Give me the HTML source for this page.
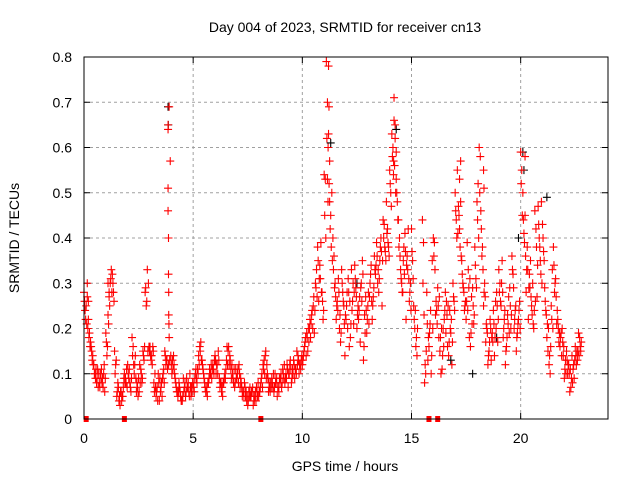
<!DOCTYPE html>
<html><head><meta charset="utf-8"><style>
body{margin:0;background:#fff;}
svg{display:block;font-family:"Liberation Sans",sans-serif;}
</style></head><body>
<svg id="chart" width="640" height="480" viewBox="0 0 640 480">
<rect width="640" height="480" fill="#fff"/>
<text x="345" y="32" font-size="14" text-anchor="middle">Day 004 of 2023, SRMTID for receiver cn13</text>
<text transform="translate(19,238) rotate(-90)" font-size="14" text-anchor="middle">SRMTID / TECUs</text>
<text x="345" y="471" font-size="14" text-anchor="middle">GPS time / hours</text>
<g id="grid"></g><g id="axes"></g><g id="marks"></g>
<rect x="84" y="57" width="524" height="362" fill="none" stroke="#000" stroke-width="1"/>
</svg>
<script>
const xTicks=[0,5,10,15,20];
const yTicks=[0,0.1,0.2,0.3,0.4,0.5,0.6,0.7,0.8];
const yTickLabels=["0","0.1","0.2","0.3","0.4","0.5","0.6","0.7","0.8"];
const sampleStep=0.1;
const redA=[0.28,0.25,0.22,0.17,0.14,0.10,0.09,0.08,0.11,0.10,
0.19,0.23,0.30,0.32,0.15,0.05,0.04,0.06,0.07,0.09,
0.12,0.08,0.18,0.10,0.06,0.09,0.11,0.15,0.28,0.33,
0.15,0.14,0.08,0.05,0.10,0.06,0.09,0.15,0.13,0.69,
0.12,0.14,0.08,0.05,0.06,0.04,0.07,0.09,0.06,0.05,
0.08,0.10,0.11,0.16,0.13,0.09,0.06,0.08,0.10,0.12,
0.14,0.12,0.09,0.06,0.08,0.11,0.15,0.13,0.10,0.07,
0.09,0.12,0.08,0.06,0.05,0.03,0.07,0.06,0.04,0.07,
0.05,0.08,0.12,0.14,0.10,0.07,0.09,0.06,0.08,0.07,
0.09,0.11,0.08,0.12,0.10,0.08,0.13,0.11,0.14,0.12,
0.12,0.16,0.19,0.17,0.21,0.25,0.30,0.38,0.34,0.28,
0.54,0.79,0.63,0.45,0.40,0.30,0.26,0.20,0.33,0.25,
0.22,0.31,0.18,0.26,0.34,0.20,0.24,0.30,0.13,0.27,
0.25,0.30,0.22,0.36,0.39,0.28,0.40,0.44,0.37,0.42,
0.55,0.63,0.71,0.59,0.44,0.33,0.28,0.41,0.36,0.26,
0.42,0.25,0.16,null,null,0.44,0.08,0.28,0.16,0.10,
0.40,0.23,0.29,0.15,0.11,0.22,0.26,0.14,0.19,0.30,
0.50,0.55,0.42,0.35,0.28,0.22,0.33,0.16,0.29,0.38,
0.48,0.60,0.42,0.25,0.17,0.12,0.22,0.19,0.14,0.28,
0.33,0.25,0.18,0.12,0.23,0.29,0.36,0.20,0.15,0.22,
0.59,0.50,0.45,0.38,0.32,0.25,0.20,0.42,0.47,0.35,
0.43,0.29,0.18,0.12,0.25,0.38,0.31,0.22,0.16,0.20,
0.09,0.15,0.12,0.07,0.11,0.16,0.13,0.18];
const redB=[0.24,0.27,0.19,0.15,0.12,0.11,0.07,0.10,0.09,0.06,
0.14,0.27,0.33,0.28,0.12,0.08,0.03,0.05,0.10,0.11,
0.09,0.06,0.16,0.14,0.07,0.12,0.08,0.13,0.25,0.30,
0.14,0.16,0.10,0.07,0.04,0.08,0.11,0.12,0.65,0.57,
0.13,0.10,0.06,0.08,0.04,0.09,0.05,0.07,0.10,0.06,
0.06,0.09,0.14,0.17,0.11,0.07,0.05,0.11,0.09,0.10,
0.10,0.15,0.08,0.05,0.10,0.16,0.12,0.09,0.08,0.11,
0.11,0.07,0.05,0.08,0.04,0.06,0.05,0.03,0.06,0.05,
0.06,0.10,0.13,0.09,0.06,0.08,0.07,0.10,0.05,0.09,
0.07,0.09,0.10,0.07,0.13,0.11,0.09,0.15,0.10,0.13,
0.14,0.18,0.15,0.22,0.24,0.19,0.33,0.26,0.39,0.22,
0.53,0.70,0.57,0.50,0.36,0.22,0.31,0.17,0.28,0.14,
0.28,0.16,0.33,0.21,0.29,0.25,0.17,0.35,0.23,0.19,
0.21,0.34,0.27,0.32,0.30,0.35,0.25,0.43,0.48,0.38,
0.50,0.60,0.65,0.48,0.40,0.30,0.38,0.22,0.42,0.30,
0.35,0.20,0.14,null,null,0.39,0.10,0.13,0.21,0.35,
0.39,0.24,0.18,0.10,0.20,0.28,0.16,0.24,0.12,0.26,
0.44,0.47,0.57,0.30,0.25,0.39,0.18,0.27,0.21,0.31,
0.52,0.58,0.38,0.30,0.20,0.15,0.13,0.24,0.26,0.17,
0.30,0.35,0.22,0.16,0.27,0.20,0.32,0.24,0.19,0.26,
0.55,0.41,0.28,0.22,0.35,0.30,0.46,0.27,0.40,0.48,
0.37,0.24,0.15,0.10,0.33,0.28,0.21,0.17,0.19,0.14,
0.13,0.10,0.06,0.14,0.09,0.12,0.19,0.15];
const redC=[0.26,0.21,0.18,0.16,0.12,0.09,0.11,0.07,0.08,0.12,
0.17,0.21,0.31,0.30,0.10,0.06,0.05,0.04,0.09,0.08,
0.10,0.07,0.14,0.12,0.08,0.06,0.10,0.14,0.29,0.15,
0.16,0.12,0.06,0.06,0.08,0.07,0.10,0.14,0.11,0.13,
0.10,0.12,0.07,0.06,0.05,0.05,0.08,0.07,0.05,0.07,
0.07,0.11,0.10,0.15,0.12,0.08,0.07,0.09,0.12,0.11,
0.13,0.10,0.07,0.07,0.09,0.13,0.16,0.11,0.09,0.08,
0.10,0.10,0.07,0.05,0.06,0.04,0.05,0.07,0.05,0.06,
0.06,0.09,0.11,0.15,0.09,0.06,0.08,0.07,0.09,0.06,
0.10,0.10,0.09,0.11,0.12,0.09,0.12,0.10,0.13,0.11,
0.13,0.17,0.18,0.20,0.23,0.27,0.29,0.35,0.31,0.26,
0.45,0.62,0.52,0.38,0.33,0.27,0.24,0.23,0.30,0.21,
0.25,0.28,0.21,0.30,0.31,0.23,0.27,0.26,0.16,0.24,
0.28,0.32,0.25,0.33,0.36,0.31,0.37,0.40,0.35,0.39,
0.52,0.58,0.56,0.50,0.38,0.31,0.35,0.37,0.33,0.28,
0.37,0.22,0.18,null,null,0.30,0.12,0.21,0.19,0.14,
0.36,0.26,0.25,0.18,0.14,0.24,0.23,0.17,0.22,0.27,
0.46,0.41,0.38,0.32,0.24,0.26,0.29,0.19,0.25,0.34,
0.44,0.50,0.36,0.28,0.21,0.14,0.20,0.17,0.18,0.25,
0.28,0.30,0.20,0.15,0.21,0.25,0.33,0.22,0.18,0.24,
0.52,0.44,0.36,0.33,0.29,0.23,0.24,0.38,0.43,0.32,
0.40,0.26,0.21,0.14,0.22,0.34,0.27,0.20,0.18,0.17,
0.11,0.13,0.10,0.09,0.12,0.14,0.15,0.16];
const redD=[0.22,0.20,0.16,0.13,0.10,0.08,0.10,0.09,0.07,0.09,
0.16,0.25,0.28,0.26,0.13,0.07,0.06,0.05,0.08,0.07,
0.11,0.09,0.12,0.09,0.05,0.08,0.09,0.16,0.26,0.16,
0.13,0.15,0.07,0.04,0.09,0.05,0.08,0.13,0.12,0.14,
0.11,0.09,0.06,0.07,0.04,0.06,0.06,0.08,0.07,0.08,
0.09,0.08,0.12,0.13,0.10,0.06,0.08,0.10,0.11,0.13,
0.12,0.13,0.08,0.08,0.09,0.12,0.14,0.12,0.11,0.09,
0.08,0.09,0.06,0.07,0.05,0.05,0.06,0.05,0.04,0.08,
0.07,0.07,0.10,0.12,0.08,0.07,0.10,0.08,0.07,0.08,
0.08,0.12,0.09,0.10,0.11,0.10,0.11,0.12,0.12,0.14,
0.15,0.14,0.20,0.18,0.20,0.24,0.27,0.31,0.28,0.24,
0.40,0.48,0.42,0.35,0.29,0.25,0.28,0.19,0.26,0.23,
0.20,0.26,0.24,0.28,0.27,0.22,0.29,0.32,0.19,0.22,
0.27,0.26,0.29,0.34,0.33,0.38,0.35,0.38,0.41,0.36,
0.47,0.54,0.50,0.44,0.36,0.28,0.32,0.34,0.31,0.24,
0.31,0.24,0.20,null,null,0.23,0.15,0.18,0.24,0.20,
0.33,0.21,0.27,0.20,0.16,0.19,0.25,0.20,0.17,0.24,
0.40,0.45,0.36,0.29,0.26,0.24,0.31,0.21,0.23,0.29,
0.40,0.46,0.33,0.27,0.19,0.17,0.18,0.21,0.20,0.22,
0.26,0.28,0.24,0.18,0.19,0.23,0.29,0.25,0.21,0.20,
0.45,0.39,0.33,0.29,0.27,0.21,0.26,0.34,0.38,0.30,
0.35,0.23,0.20,0.16,0.20,0.30,0.24,0.19,0.14,0.16,
0.10,0.12,0.11,0.08,0.13,0.15,0.14,0.17];
const extraTimes=[3.85,3.85,3.85,3.87,3.87,3.88,3.88,3.89,3.9,11.2,11.22,11.18,11.15,11.25,14.2,14.25,14.18,14.3,18.3,18.32,17.2,17.25,1.1,1.15,20.2,0.15,0.2];
const extraValues=[0.64,0.51,0.46,0.40,0.32,0.23,0.28,0.21,0.18,0.78,0.69,0.60,0.53,0.48,0.66,0.62,0.57,0.53,0.55,0.51,0.53,0.48,0.30,0.28,0.58,0.30,0.26];
const blackTimes=[3.85,3.86,20.1,20.15,14.3,11.3,19.9,21.2,17.8,12.5,16.8,18.9];
const blackValues=[0.69,0.65,0.59,0.55,0.64,0.61,0.40,0.49,0.10,0.30,0.13,0.18];
const gapTimes=[0.1,1.85,8.1,15.8,16.2];

const X0=84,X1=608,Y0=419,Y1=57,XMAX=24,YMAX=0.8;
const xs=t=>X0+(t/XMAX)*(X1-X0);
const ys=v=>Y0-(v/YMAX)*(Y0-Y1);
const NS="http://www.w3.org/2000/svg";
const mk=(tag,attrs,parent)=>{const e=document.createElementNS(NS,tag);for(const k in attrs)e.setAttribute(k,attrs[k]);parent.appendChild(e);return e;};
const grid=document.getElementById('grid'),axes=document.getElementById('axes'),marks=document.getElementById('marks');

yTicks.forEach((v,i)=>{
  const y=ys(v);
  if(v>0&&v<YMAX){const g=mk('line',{x1:X0,x2:X1,y1:y,y2:y,stroke:'#a0a0a0','stroke-dasharray':'3,3','stroke-width':1},grid);
  
  }
  mk('line',{x1:X0,x2:X0+6,y1:y,y2:y,stroke:'#000'},axes);
  mk('line',{x1:X1-6,x2:X1,y1:y,y2:y,stroke:'#000'},axes);
  const t=mk('text',{x:X0-12,y:y+5,'font-size':14,'text-anchor':'end'},axes);
  t.textContent=yTickLabels[i];
  
  
});
xTicks.forEach(v=>{
  const x=xs(v);
  if(v>0){const g=mk('line',{x1:x,x2:x,y1:Y0,y2:Y1,stroke:'#a0a0a0','stroke-dasharray':'3,3','stroke-width':1},grid);
  
  }
  mk('line',{x1:x,x2:x,y1:Y0,y2:Y0-6,stroke:'#000'},axes);
  mk('line',{x1:x,x2:x,y1:Y1,y2:Y1+6,stroke:'#000'},axes);
  const t=mk('text',{x:x,y:Y0+24,'font-size':14,'text-anchor':'middle'},axes);
  t.textContent=String(v);
  
  
});
function plus(t,v,color,name){
  const x=xs(t),y=ys(v);
  const p=mk('path',{d:`M${x-4},${y}H${x+4}M${x},${y-4}V${y+4}`,stroke:color,'stroke-width':1.1,fill:'none'},marks);
  
  
}
blackTimes.forEach((t,i)=>plus(t,blackValues[i],'#000','black-point'));
redA.forEach((v,i)=>{if(v!==null)plus(i*sampleStep,v,'#ff0000','red-point');});
redB.forEach((v,i)=>{if(v!==null)plus(i*sampleStep+0.05,v,'#ff0000','red-point');});
redC.forEach((v,i)=>{if(v!==null)plus(i*sampleStep+0.025,v,'#ff0000','red-point');});
redD.forEach((v,i)=>{if(v!==null)plus(i*sampleStep+0.075,v,'#ff0000','red-point');});
extraTimes.forEach((t,i)=>plus(t,extraValues[i],'#ff0000','red-point'));
gapTimes.forEach(t=>{
  const r=mk('rect',{x:xs(t)-2.5,y:Y0-3,width:5,height:6,fill:'#ff0000'},marks);
  
  
});
</script>
</body></html>
